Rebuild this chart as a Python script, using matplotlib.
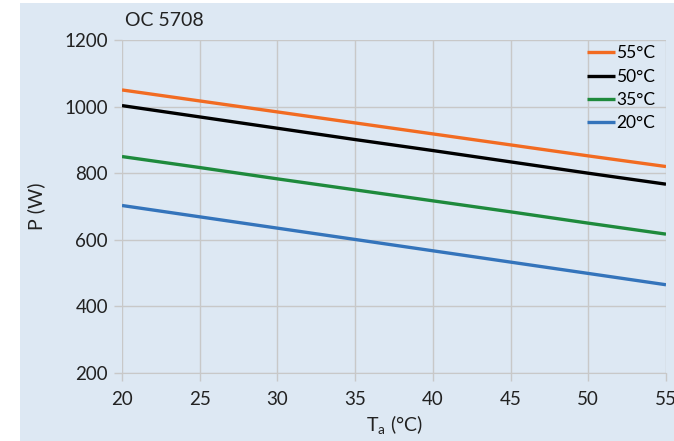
import matplotlib.pyplot as plt
from matplotlib.patches import Rectangle

plt.rcParams['font.family'] = ['Lato', 'DejaVu Sans']

ta = [20, 25, 30, 35, 40, 45, 50, 55]
p_55 = [1050, 1017, 984, 951, 918, 885, 852, 820]
p_50 = [1003, 969, 935, 901, 868, 834, 800, 767]
p_35 = [850, 817, 783, 750, 717, 684, 650, 617]
p_20 = [703, 669, 635, 601, 567, 533, 499, 465]

series = [
    ("55°C", p_55, "#f26b21"),
    ("50°C", p_50, "#000000"),
    ("35°C", p_35, "#1e8a3c"),
    ("20°C", p_20, "#3474bb"),
]

bg = "#dde8f3"
grid = "#c8c8c8"

fig = plt.figure(figsize=(6.74, 4.41), dpi=100, facecolor="white")
fig.patches.append(Rectangle((20 / 674, 0), 1, 1 - 3 / 441, transform=fig.transFigure,
                             facecolor=bg, edgecolor="none", zorder=-10))
ax = fig.add_axes([122 / 674, 1 - 373 / 441, (666 - 122) / 674, (373 - 40) / 441])
ax.set_facecolor(bg)

for label, vals, color in series:
    ax.plot(ta, vals, color=color, lw=2.4, label=label, solid_capstyle="butt")

ax.set_xlim(20, 55)
ax.set_ylim(200, 1200)
ax.set_xticks(ta)
ax.set_yticks(range(200, 1201, 200))
ax.grid(True, color=grid, lw=1)
for s in ["top", "right", "left"]:
    ax.spines[s].set_visible(False)
ax.spines["bottom"].set_color(grid)
ax.tick_params(axis="both", colors=grid, labelcolor="#222222", labelsize=13.5, length=6, width=1)
ax.tick_params(axis="x", pad=7)
ax.tick_params(axis="y", pad=4)

ax.set_xlabel("T$_\\mathregular{a}$ (°C)", fontsize=14, color="#222222", labelpad=4)
ax.set_ylabel("P (W)", fontsize=14, color="#222222", labelpad=14)
fig.text(125 / 674, 1 - 20 / 441, "OC 5708", fontsize=14, color="#222222", va="center", ha="left")

ax.legend(loc="upper right", bbox_to_anchor=(1.0, 1.015), frameon=False, fontsize=12.5,
          handlelength=1.6, handletextpad=0.1, labelspacing=0.42, borderaxespad=0.2)

fig.savefig("out.png", dpi=100, facecolor="white")
